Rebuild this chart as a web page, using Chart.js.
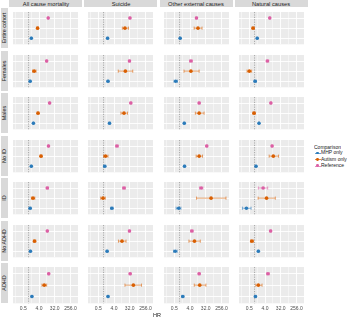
<!DOCTYPE html>
<html>
<head>
<meta charset="utf-8">
<script src="https://cdn.jsdelivr.net/npm/chart.js@4.4.1/dist/chart.umd.min.js"></script>
<style>
  body { margin: 0; width: 350px; height: 318px; position: relative; overflow: hidden; background: #fff;
         font-family: "Liberation Sans", Arial, sans-serif; }
  .panel { position: absolute; }
  .strip { position: absolute; background: #d9d9d9; overflow: hidden; }
  .lbl { position: absolute; left: 50%; top: 50%; font-size: 10px; white-space: nowrap; color: #1a1a1a; }
  .leg { position: absolute; font-size: 10px; white-space: nowrap; color: #1a1a1a; transform-origin: 0 50%; }
  .key { position: absolute; width: 6px; height: 0.8px; }
  .key i { position: absolute; left: 1.6px; top: -1.3px; width: 2.8px; height: 2.8px; border-radius: 50%; }
</style>
</head>
<body>
<script>
const causes = ['All cause mortality', 'Suicide', 'Other external causes', 'Natural causes'];
const groups = ['Entire cohort', 'Females', 'Males', 'No ID', 'ID', 'No ADHD', 'ADHD'];
const comparisons = ['MHP only', 'Autism only', 'Reference'];
const xTickLabels = [0.5, 4, 32, 256];

// hazard ratios, one row per group, columns follow causes
const refHR = [[13.5, 33, 9.4, 7.5], [11, 31, 4.5, 5.5], [16.3, 37, 13.4, 8.7], [14, 5.9, 36.7, 10.2],
               [12, 15, 17.6, 3.1], [12, 31, 5.1, 8.4], [14.5, 34, 13.4, 5.9]];
const refLo = [[12.8, 30, 8.5, 7.0], [10.2, 28, 3.8, 4.7], [15.4, 33.5, 12, 8.0], [13.2, 5.0, 33, 9.3],
               [10.5, 12.5, 14, 1.65], [11.3, 28, 4.3, 7.7], [13.3, 30, 11.8, 5.0]];
const refHi = [[14.2, 36.5, 10.4, 8.1], [11.9, 34.5, 5.4, 6.5], [17.2, 41, 15, 9.4], [14.8, 7.0, 41, 11.2],
               [13.8, 18, 22, 5.7], [12.8, 34, 6.0, 9.2], [15.8, 38, 15.3, 7.0]];

const autHR = [[3.3, 17, 11.5, 0.82], [2.1, 18, 4.5, 0.5], [3.5, 15, 13.4, 0.93], [5.2, 1.3, 13.4, 12],
               [1.8, 0.93, 65, 4.9], [2.2, 11.5, 7.2, 0.7], [8, 52, 14.5, 1.65]];
const autLo = [[3.0, 12, 6.9, 0.72], [1.7, 7, 1.8, 0.37], [3.1, 10, 8.1, 0.8], [4.6, 1.0, 9, 6.9],
               [1.44, 0.68, 9.5, 1.6], [1.9, 7.2, 3.45, 0.58], [5.9, 17, 7, 1.17]];
const autHi = [[3.7, 27, 19.7, 0.95], [2.7, 48, 13.4, 0.68], [4.0, 24, 25.8, 1.1], [5.9, 1.8, 21, 24],
               [2.3, 1.26, 470, 15.6], [2.6, 19.7, 15.6, 0.86], [11, 153, 33, 2.7]];

const mhpHR = [[1.44, 1.7, 1.08, 1.42], [1.23, 1.8, 0.6, 1.08], [1.9, 2.2, 1.86, 1.8], [1.44, 1.17, 1.93, 1.21],
               [1.23, 3.0, 0.89, 0.34], [1.28, 1.6, 0.56, 1.65], [1.56, 1.8, 1.53, 1.12]];
const mhpLo = [[1.36, 1.55, 1.0, 1.32], [1.12, 1.6, 0.48, 0.93], [1.8, 2.0, 1.72, 1.68], [1.36, 1.0, 1.78, 1.1],
               [1.08, 2.6, 0.63, 0.2], [1.18, 1.45, 0.45, 1.52], [1.42, 1.62, 1.33, 0.98]];
const mhpHi = [[1.52, 1.86, 1.17, 1.53], [1.35, 2.0, 0.76, 1.27], [2.0, 2.45, 2.02, 1.93], [1.52, 1.35, 2.1, 1.33],
               [1.4, 3.5, 1.2, 0.63], [1.38, 1.77, 0.73, 1.8], [1.72, 2.0, 1.77, 1.3]];

const colors = ['#2b7bba', '#d95f02', '#dc5fa4'];
const barColors = ['rgba(43,123,186,0.7)', 'rgba(217,95,2,0.7)', 'rgba(220,95,164,0.7)'];
const series = [[mhpHR, mhpLo, mhpHi], [autHR, autLo, autHi], [refHR, refLo, refHi]];

// layout (px)
const left0 = 9, colStep = 75.3, panelW = 73;
const top0 = 8, rowStep = 42.5, panelH = 40.3, axisH = 9;
const fontFamily = '"Liberation Sans", Arial, sans-serif';

// major ticks plus the minor lines half way between them (log2)
const gridVals = [];
xTickLabels.forEach((v) => {
    gridVals.push(v / Math.sqrt(8));
    gridVals.push(v);
});

const panelBg = {
    id: 'panelBg',
    beforeDraw(chart) {
        const { ctx, chartArea: a } = chart;
        ctx.save();
        ctx.fillStyle = '#ebebeb';
        ctx.fillRect(a.left, a.top, a.right - a.left, a.bottom - a.top);
        ctx.restore();
    }
};

const refLine = {
    id: 'refLine',
    beforeDatasetsDraw(chart) {
        const { ctx, chartArea: a, scales: { x } } = chart;
        const px = x.getPixelForValue(1);
        ctx.save();
        ctx.strokeStyle = '#8c8c8c';
        ctx.lineWidth = 0.7;
        ctx.setLineDash([1.2, 1.2]);
        ctx.beginPath();
        ctx.moveTo(px, a.top);
        ctx.lineTo(px, a.bottom);
        ctx.stroke();
        ctx.restore();
    }
};

const errorBars = {
    id: 'errorBars',
    beforeDatasetsDraw(chart) {
        const { ctx, scales: { x, y } } = chart;
        chart.data.datasets.forEach(ds => {
            ds.data.forEach((p, i) => {
                const py = y.getPixelForValue(p.y);
                const x1 = x.getPixelForValue(ds.lo[i]);
                const x2 = x.getPixelForValue(ds.hi[i]);
                ctx.save();
                ctx.strokeStyle = ds.barColor;
                ctx.lineWidth = 0.8;
                ctx.beginPath();
                ctx.moveTo(x1, py); ctx.lineTo(x2, py);
                ctx.moveTo(x1, py - 1.6); ctx.lineTo(x1, py + 1.6);
                ctx.moveTo(x2, py - 1.6); ctx.lineTo(x2, py + 1.6);
                ctx.stroke();
                ctx.restore();
            });
        });
    }
};

function addText(cls, text, css, transform) {
    const d = document.createElement('div');
    d.className = cls;
    Object.assign(d.style, css);
    d.textContent = text;
    if (transform) d.style.transform = transform;
    document.body.appendChild(d);
    return d;
}

// top strips
causes.forEach((c, k) => {
    const s = document.createElement('div');
    s.className = 'strip';
    Object.assign(s.style, { left: (left0 + k * colStep) + 'px', top: '0px', width: panelW + 'px', height: '7.3px' });
    const t = document.createElement('div');
    t.className = 'lbl';
    t.textContent = c;
    t.style.transform = 'translate(-50%,-50%) scale(0.57)';
    s.appendChild(t);
    document.body.appendChild(s);
});

// side strips
groups.forEach((g, r) => {
    const s = document.createElement('div');
    s.className = 'strip';
    Object.assign(s.style, { left: '0.5px', top: (top0 + r * rowStep) + 'px', width: '7.8px', height: panelH + 'px' });
    const t = document.createElement('div');
    t.className = 'lbl';
    t.textContent = g;
    t.style.transform = 'translate(-50%,-50%) rotate(-90deg) scale(0.54)';
    s.appendChild(t);
    document.body.appendChild(s);
});

// panels
groups.forEach((g, r) => {
    const bottom = r === groups.length - 1;
    causes.forEach((c, k) => {
        const box = document.createElement('div');
        box.className = 'panel';
        Object.assign(box.style, {
            left: (left0 + k * colStep) + 'px', top: (top0 + r * rowStep) + 'px',
            width: panelW + 'px', height: (panelH + (bottom ? axisH : 0)) + 'px'
        });
        const cv = document.createElement('canvas');
        box.appendChild(cv);
        document.body.appendChild(box);

        new Chart(cv, {
            type: 'scatter',
            data: {
                datasets: series.map((s, j) => ({
                    label: comparisons[j],
                    data: [{ x: s[0][r][k], y: j }],
                    lo: [s[1][r][k]],
                    hi: [s[2][r][k]],
                    barColor: barColors[j],
                    backgroundColor: colors[j],
                    borderColor: colors[j],
                    pointRadius: 1.8,
                    pointBorderWidth: 0
                }))
            },
            options: {
                responsive: true,
                maintainAspectRatio: false,
                animation: false,
                layout: { padding: 0 },
                plugins: { legend: { display: false }, tooltip: { enabled: false } },
                scales: {
                    x: {
                        type: 'logarithmic',
                        min: 0.127,
                        max: 700,
                        afterBuildTicks: (s) => { s.ticks = gridVals.map(v => ({ value: v })); },
                        afterFit: (s) => { s.height = bottom ? axisH : 0; },
                        border: { display: false },
                        grid: {
                            color: '#ffffff',
                            lineWidth: (ctx) => (ctx.index % 2 === 1 ? 0.9 : 0.45),
                            drawTicks: false
                        },
                        ticks: {
                            display: bottom,
                            autoSkip: false,
                            maxRotation: 0,
                            padding: 2,
                            color: '#4d4d4d',
                            font: { size: 5, family: fontFamily },
                            callback: (v, i) => (i % 2 === 1 ? Number(v).toFixed(1) : '')
                        }
                    },
                    y: {
                        type: 'linear',
                        min: -0.6,
                        max: 2.6,
                        afterBuildTicks: (s) => { s.ticks = [0, 1, 2].map(v => ({ value: v })); },
                        afterFit: (s) => { s.width = 0; },
                        border: { display: false },
                        grid: { color: '#ffffff', lineWidth: 0.9, drawTicks: false },
                        ticks: { display: false }
                    }
                }
            },
            plugins: [panelBg, refLine, errorBars]
        });
    });
});

// axis title
addText('leg', 'HR', { left: '157px', top: '314.5px' }, 'translate(-50%,-50%) scale(0.55)').style.transformOrigin = '50% 50%';

// legend
addText('leg', 'Comparison', { left: '314px', top: '141.5px' }, 'scale(0.5)');
[0, 1, 2].forEach((j, n) => {
    const y = 153.3 + n * 6.35;
    const key = document.createElement('div');
    key.className = 'key';
    Object.assign(key.style, { left: '314.7px', top: (y - 0.4) + 'px', background: barColors[j] });
    const dot = document.createElement('i');
    dot.style.background = colors[j];
    key.appendChild(dot);
    document.body.appendChild(key);
    addText('leg', comparisons[j], { left: '321px', top: (y - 6) + 'px' }, 'scale(0.5)');
});
</script>
</body>
</html>
